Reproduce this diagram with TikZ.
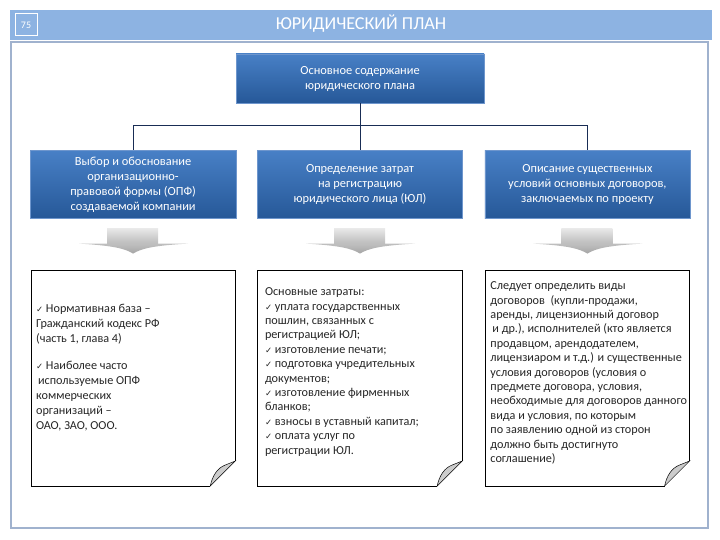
\documentclass[tikz,border=0pt]{standalone}
\usepackage{fontspec}
\setmainfont{Carlito}
\newfontfamily\symfont{DejaVu Sans}
\usetikzlibrary{positioning}

\definecolor{titleblue}{RGB}{141,179,226}
\definecolor{frameblue}{RGB}{160,178,206}
\definecolor{boxtop}{RGB}{72,128,198}
\definecolor{boxbot}{RGB}{38,88,152}
\definecolor{boxedge}{RGB}{110,150,205}
\definecolor{linknavy}{RGB}{25,45,85}

\newcommand{\chk}{{\symfont\fontsize{8.5}{8.5}\selectfont ✓}}

\tikzset{
  blok/.style={draw=boxedge, top color=boxtop, bottom color=boxbot, text=white,
    align=center, inner sep=0pt, font=\fontsize{12.4}{15}\selectfont},
  sheet/.style={minimum width=204pt, minimum height=215pt, inner sep=0pt},
  sheettext/.style={anchor=north west, align=left, inner sep=0pt,
    font=\fontsize{12.2}{14.4}\selectfont, text=black!85},
  link/.style={draw=linknavy, line width=0.9pt},
}

\begin{document}
\begin{tikzpicture}[x=1pt,y=-1pt]
\useasboundingbox (0,0) rectangle (720,540);

% Titre
\fill[titleblue] (10,10) rectangle (712,40);
\node[draw=white, line width=1pt, minimum width=22pt, minimum height=22pt, inner sep=0pt,
  text=white, font=\fontsize{10}{10}\selectfont] (num) at (26,25) {75};
\node[text=white, font=\fontsize{18.2}{18}\selectfont] (title) at (361,24) {ЮРИДИЧЕСКИЙ ПЛАН};
\draw[frameblue, line width=2pt] (11,42) rectangle (708,528);

% Blocs
\node[blok, minimum width=248pt, minimum height=49pt] (main) at (360,78.5)
  {Основное содержание\\юридического плана};
\node[blok, minimum width=205pt, minimum height=68pt, below=47pt of main] (b2)
  {Определение затрат\\на регистрацию\\юридического лица (ЮЛ)};
\node[blok, minimum width=206pt, minimum height=68pt, left=21pt of b2] (b1)
  {Выбор и обоснование\\организационно-\\правовой формы (ОПФ)\\создаваемой компании};
\node[blok, minimum width=205pt, minimum height=68pt, right=22pt of b2] (b3)
  {Описание существенных\\условий основных договоров,\\заключаемых по проекту};

% Liaisons
\coordinate (bus) at ([yshift=-22pt]main.south);
\draw[link] (main) -- (bus);
\foreach \b in {b1,b2,b3}
{
\draw[link] (bus) -| (\b);
}

% Fleches grises
\foreach \b in {b1,b2,b3}
{
\begin{scope}[shift={(\b.south)}]
\shade[top color=gray!18, bottom color=gray!55] (-26,10) rectangle (25,26);
\shade[top color=gray!50, bottom color=gray!70] (-54,25) -- (55,25)
  .. controls (20,27) and (8,30) .. (0,35) .. controls (-8,30) and (-20,27) .. (-54,25) -- cycle;
\end{scope}
}

% Feuilles
\node[sheet, below=52pt of b1] (n1) {};
\node[sheet, below=52pt of b2] (n2) {};
\node[sheet, below=52pt of b3] (n3) {};

\foreach \n in {n1,n2,n3}
{
\draw[line width=0.8pt] ([yshift=25pt]\n.south east) -- (\n.north east) -- (\n.north west)
  -- (\n.south west) -- ([xshift=-25pt]\n.south east);
\filldraw[fill=gray!40, draw=black, line width=0.5pt] ([xshift=-25pt]\n.south east)
  .. controls ([xshift=-23pt,yshift=10pt]\n.south east) and ([xshift=-18pt,yshift=18pt]\n.south east)
  .. ([xshift=-10pt,yshift=21pt]\n.south east) .. controls ([xshift=-5pt,yshift=23pt]\n.south east)
  .. ([yshift=25pt]\n.south east) -- cycle;
}

\node[sheettext, font=\fontsize{12.2}{15}\selectfont] (t1) at ([xshift=5pt,yshift=-33pt]n1.north west)
  {\chk\ Нормативная база –\\Гражданский кодекс РФ\\(часть 1, глава 4)\\[12pt]
   \chk\ Наиболее часто\\\hspace{2pt}используемые ОПФ\\коммерческих\\организаций –\\ОАО, ЗАО, ООО.};
\node[sheettext] (t2) at ([xshift=7pt,yshift=-17pt]n2.north west)
  {Основные затраты:\\\chk\ уплата государственных\\пошлин, связанных с\\регистрацией ЮЛ;\\
   \chk\ изготовление печати;\\\chk\ подготовка учредительных\\документов;\\
   \chk\ изготовление фирменных\\бланков;\\\chk\ взносы в уставный капитал;\\
   \chk\ оплата услуг по\\регистрации ЮЛ.};
\node[sheettext] (t3) at ([xshift=5pt,yshift=-11pt]n3.north west)
  {Следует определить виды\\договоров \ (купли-продажи,\\аренды, лицензионный договор\\
   \hspace{2pt}и др.), исполнителей (кто является\\продавцом, арендодателем,\\
   лицензиаром и т.д.) и существенные\\условия договоров (условия о\\
   предмете договора, условия,\\необходимые для договоров данного\\
   вида и условия, по которым\\по заявлению одной из сторон\\должно быть достигнуто\\соглашение)};

\end{tikzpicture}
\end{document}
